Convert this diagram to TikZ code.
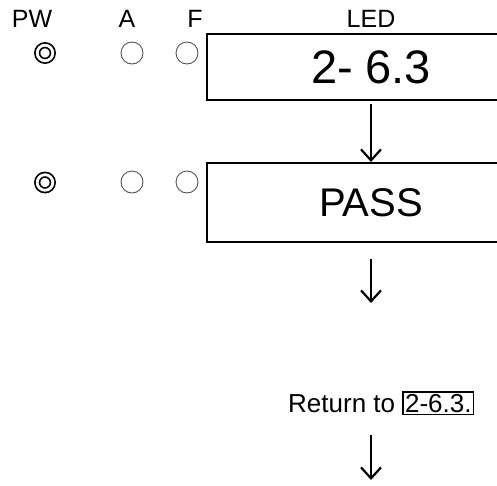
\documentclass[tikz,border=0pt]{standalone}
\usepackage{fontspec}
\setmainfont{Liberation Sans}
\usetikzlibrary{arrows.meta,positioning}
\definecolor{ink}{HTML}{000000}
\definecolor{ring}{HTML}{555555}
\tikzset{
  >={Straight Barb[length=11pt,width=20pt]},
  lab/.style={font=\fontsize{25}{30}\selectfont,inner sep=0pt},
  led/.style={draw=ink,line width=2pt,minimum width=328pt,inner sep=0pt},
  lamp/.style={circle,draw=ring,line width=0.9pt,minimum size=22pt,inner sep=0pt},
  pwlamp/.style={circle,draw=ink,double=white,double distance=2.8pt,line width=1.7pt,minimum size=15.6pt,inner sep=0pt},
  arr/.style={->,draw=ink,line width=2.2pt},
}
\begin{document}
\begin{tikzpicture}[x=1pt,y=-1pt]
\useasboundingbox (0,0) rectangle (497,485);
% column heads
\node[lab] (hpw) at (32,18.5) {PW};
\node[lab] (ha) at (127,18.5) {A};
\node[lab] (hf) at (195,18.5) {F};
\node[lab] (hled) at (371,18.5) {LED};
% lamps, first state
\node[pwlamp] (pw1) at (45,53) {};
\node[lamp] (a1) at (132,53) {};
\node[lamp] (f1) at (187,53) {};
\node[led,minimum height=66pt,font=\fontsize{47}{56}\selectfont] (d1) at (371,67) {2-\hspace{12pt}6.3};
% lamps, second state
\node[pwlamp] (pw2) at (45,182.5) {};
\node[lamp] (a2) at (132,182) {};
\node[lamp] (f2) at (187,182) {};
\node[led,minimum height=79pt,font=\fontsize{40}{48}\selectfont] (d2) at (371,202.5) {PASS};
\draw[arr] (d1.south) ++(0,3) -- (d2.north);
% return step
\coordinate (e2) at (371,303);
\draw[arr] (d2.south) ++(0,16) -- (e2);
\node[lab,font=\fontsize{26}{31}\selectfont,anchor=base west] (ret) at (288,412) {Return to};
\node[lab,font=\fontsize{26}{31}\selectfont,draw=ink,line width=1.4pt,inner sep=2pt,anchor=base west] (rref) at ([xshift=7pt]ret.base east) {2-6.3.};
\coordinate (s3) at (371,435);
\coordinate (e3) at (371,480);
\draw[arr] (s3) -- (e3);
\end{tikzpicture}
\end{document}
